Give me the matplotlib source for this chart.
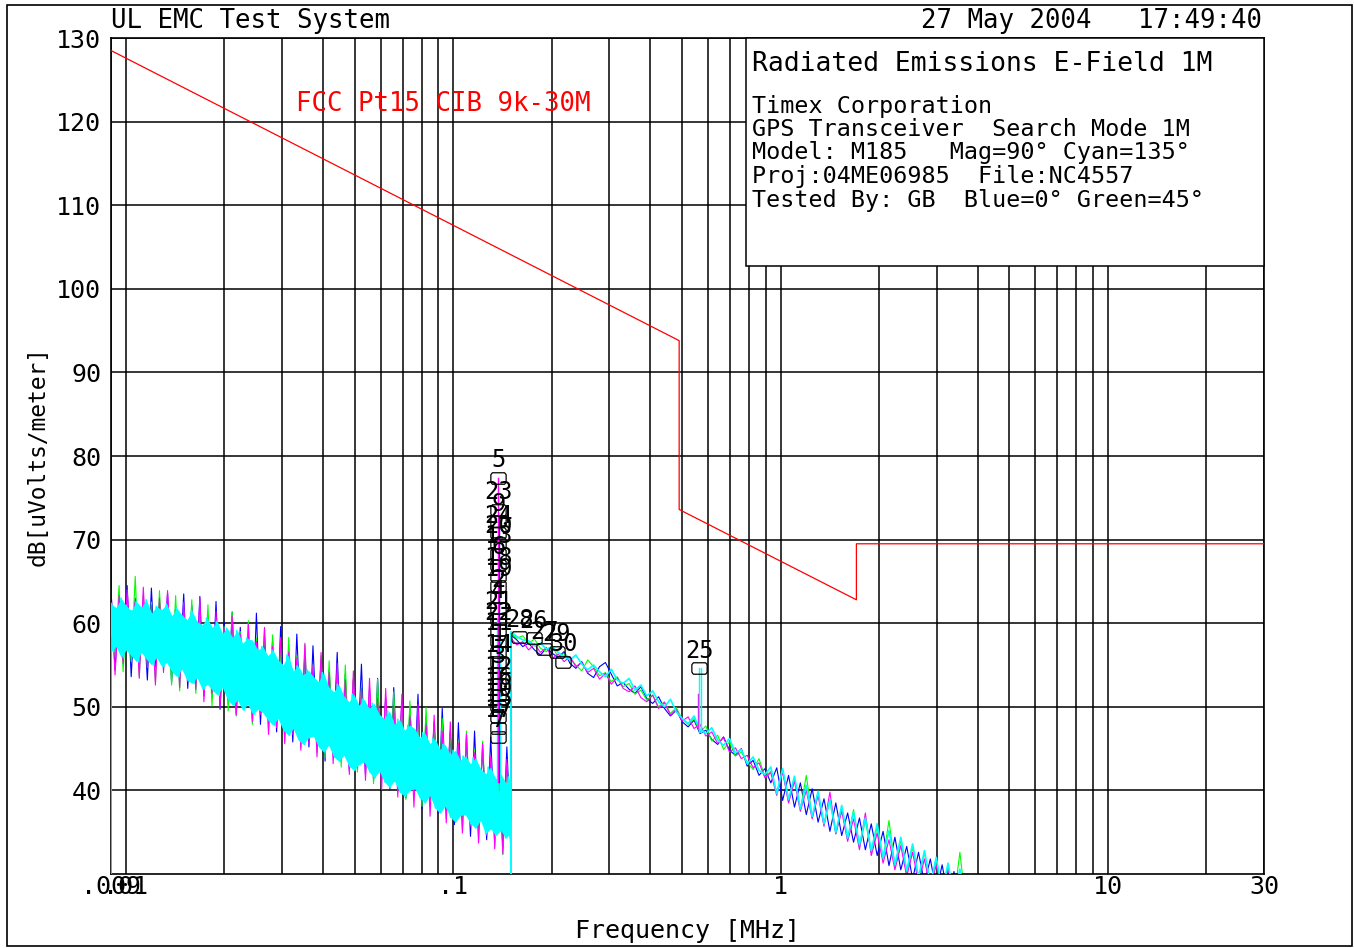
import numpy as np
import matplotlib
matplotlib.use("Agg")
import matplotlib.pyplot as plt
from matplotlib.patches import Rectangle
from matplotlib.ticker import LogLocator, NullFormatter, FixedLocator, FixedFormatter

plt.rcParams['font.family'] = ['DejaVu Sans Mono']

# ---------------- data ----------------
# sweep 1 (0.009 - 0.15 MHz), peak / trough pairs per trace
LOW_START, LOW_STOP = 0.009, 0.15
HIGH_START, HIGH_STOP = 0.15, 4.0
cyan_floor_db = 25.0

cyan_lo_hi = [62.4, 61.8, 63.0, 62.1, 61.5, 62.6, 61.9, 62.8, 61.2, 62.0,
              61.6, 62.3, 60.9, 61.8, 61.0, 60.4, 61.5, 60.2, 59.8, 60.6,
              59.5, 60.2, 58.8, 59.4, 58.3, 59.1, 57.6, 58.2, 57.9, 56.8,
              57.2, 56.1, 56.8, 55.6, 55.0, 56.2, 54.3, 54.9, 53.8, 54.4,
              53.6, 53.0, 54.1, 52.4, 51.8, 52.7, 51.3, 50.6, 51.5, 50.2,
              50.9, 49.8, 50.4, 49.1, 48.6, 49.5, 47.9, 48.5, 47.2, 47.8,
              47.4, 46.3, 46.9, 45.6, 46.2, 44.9, 45.5, 44.3, 44.8, 43.6,
              44.1, 43.2, 43.9, 42.6, 42.0, 42.8, 41.4, 42.0, 40.9, 41.6]
cyan_lo_lo = [56.6, 57.2, 55.9, 56.8, 56.1, 55.4, 56.5, 55.7, 55.0, 55.9,
              54.8, 55.3, 54.2, 53.6, 54.5, 53.2, 52.8, 53.5, 52.1, 52.7,
              52.0, 51.4, 52.3, 50.9, 50.2, 50.8, 49.6, 50.3, 49.1, 49.7,
              49.3, 48.4, 47.8, 48.6, 47.2, 46.6, 47.4, 46.0, 45.5, 46.3,
              46.5, 45.2, 44.6, 45.4, 44.0, 43.5, 44.2, 42.9, 42.4, 43.1,
              43.4, 42.2, 41.5, 42.3, 41.0, 40.4, 41.1, 39.8, 39.3, 40.0,
              40.2, 39.1, 38.5, 39.4, 37.9, 37.3, 38.1, 36.8, 36.2, 37.0,
              37.1, 36.0, 35.5, 36.4, 34.8, 35.4, 34.6, 35.2, 34.3, 34.9]

blue_lo_hi = [64.0, 62.2, 64.5, 63.0, 61.8, 64.2, 62.4, 63.6, 62.0, 63.5,
              62.1, 63.2, 60.5, 62.6, 60.1, 61.3, 59.5, 58.9, 61.2, 58.4,
              57.9, 59.6, 56.8, 58.7, 56.2, 57.3, 55.6, 54.4, 56.5, 53.9,
              53.2, 55.1, 52.2, 53.4, 51.1, 52.3, 50.6, 49.8, 51.5, 48.8,
              48.2, 49.8, 46.9, 48.1, 46.3, 47.1, 45.2, 46.4, 44.2, 45.2]
blue_lo_lo = [54.4, 56.1, 53.6, 55.0, 53.2, 54.4, 55.8, 52.9, 54.1, 52.2,
              53.0, 51.3, 51.2, 49.7, 51.4, 49.2, 50.3, 48.5, 47.9, 49.5,
              47.0, 48.6, 45.8, 47.2, 45.2, 46.5, 43.5, 45.0, 43.4, 42.4,
              43.9, 41.9, 41.2, 42.5, 40.0, 41.1, 39.1, 40.2, 37.8, 39.2,
              37.3, 38.4, 35.9, 37.0, 34.5, 35.9, 34.1, 35.0, 33.2, 34.0]
green_lo_hi = [62.9, 64.5, 62.4, 65.6, 63.4, 62.5, 63.9, 62.2, 63.3, 61.5,
               62.8, 61.0, 62.2, 60.3, 59.6, 61.4, 59.0, 60.3, 58.2, 59.2,
               58.6, 57.0, 58.3, 56.1, 57.4, 55.0, 56.1, 55.5, 53.8, 55.0,
               53.4, 52.5, 51.6, 53.3, 50.7, 51.8, 49.8, 50.7, 49.1, 49.9,
               47.5, 48.6, 47.2, 45.9, 47.1, 44.9, 45.9, 43.8, 44.6, 43.2]
green_lo_lo = [56.0, 54.2, 55.4, 53.6, 54.8, 53.0, 54.5, 52.6, 51.9, 53.4,
               51.6, 52.5, 50.1, 51.2, 49.5, 48.9, 50.5, 47.9, 49.1, 47.1,
               48.0, 46.2, 47.1, 45.1, 46.2, 44.5, 43.9, 45.4, 42.8, 43.6,
               42.2, 43.2, 40.8, 42.0, 40.2, 41.3, 38.9, 39.8, 38.1, 38.7,
               37.5, 36.6, 37.5, 35.3, 36.3, 34.2, 35.1, 33.5, 32.3, 33.1]
magenta_lo_hi = [64.2, 63.3, 64.0, 62.6, 64.3, 62.1, 63.0, 63.9, 61.6, 62.5,
                 61.5, 63.0, 60.2, 61.4, 59.4, 60.8, 58.7, 59.9, 57.8, 59.5,
                 57.2, 58.3, 56.5, 55.9, 57.6, 55.0, 56.5, 54.1, 55.2, 53.2,
                 54.3, 52.2, 53.4, 51.0, 52.2, 50.1, 51.5, 48.9, 50.3, 47.8,
                 49.0, 47.1, 48.2, 45.7, 46.7, 44.5, 45.6, 44.1, 45.2, 43.7]
magenta_lo_lo = [53.8, 55.2, 56.1, 53.4, 54.7, 52.6, 54.1, 55.0, 52.3, 53.0,
                 52.1, 50.6, 51.6, 49.9, 50.9, 49.0, 49.8, 48.2, 49.1, 46.7,
                 47.5, 45.6, 46.7, 44.8, 45.6, 44.0, 44.9, 43.2, 44.1, 41.9,
                 42.7, 41.2, 42.0, 40.1, 40.9, 39.2, 40.0, 38.0, 38.8, 36.9,
                 37.9, 36.1, 36.8, 34.9, 35.7, 33.7, 34.6, 33.0, 32.4, 32.6]

# sweep 2 (0.15 - 4 MHz)
cyan_hi = [59.0, 58.4, 58.0, 57.9, 57.3, 57.6, 56.9, 57.2, 56.5, 56.0,
           55.6, 56.2, 55.1, 54.4, 55.0, 54.2, 53.6, 54.5, 53.2, 52.8,
           53.4, 52.0, 52.6, 51.3, 51.9, 50.6, 50.0, 50.9, 49.4, 48.6,
           48.0, 48.9, 47.3, 46.8, 47.5, 46.0, 45.4, 46.2, 44.5, 44.9,
           43.2, 44.0, 42.4, 41.9, 42.8, 39.6, 42.6, 38.9, 41.7, 37.8,
           40.6, 36.9, 39.9, 36.0, 38.9, 35.0, 38.2, 34.3, 37.4, 33.5,
           36.7, 32.8, 36.0, 31.9, 35.2, 31.1, 34.4, 30.4, 33.6, 29.6,
           32.8, 28.8, 32.0, 28.0, 31.3, 27.4, 30.6, 26.6, 29.9, 26.0]
blue_hi = [58.6, 58.0, 57.2, 57.6, 56.8, 56.2, 57.0, 56.4, 55.9, 56.6,
           55.2, 54.6, 55.4, 54.0, 53.5, 54.8, 55.3, 53.9, 52.5, 52.9,
           52.1, 51.6, 52.4, 51.0, 50.4, 51.2, 49.8, 48.9, 49.6, 48.2,
           47.6, 48.4, 46.8, 47.2, 46.1, 45.5, 46.4, 44.8, 44.2, 45.0,
           42.9, 43.6, 41.8, 42.6, 40.9, 42.7, 38.8, 41.8, 38.0, 40.9,
           37.1, 40.2, 36.2, 39.0, 35.1, 38.5, 34.6, 37.3, 33.8, 36.7,
           32.9, 36.0, 32.2, 35.1, 31.0, 34.4, 30.5, 33.3, 29.4, 32.6,
           28.9, 31.8, 27.9, 31.1, 27.2, 30.3, 26.5, 29.6, 25.8, 28.7]
green_hi = [58.8, 58.2, 58.5, 57.6, 58.1, 57.0, 56.6, 57.3, 55.9, 56.4,
            55.8, 55.0, 54.3, 55.6, 54.8, 53.7, 54.1, 53.0, 53.6, 52.4,
            52.8, 51.5, 52.0, 50.8, 51.4, 50.0, 50.6, 49.2, 49.9, 48.5,
            47.9, 48.6, 47.0, 47.7, 45.9, 46.6, 44.9, 45.8, 44.1, 44.6,
            43.4, 42.5, 43.8, 41.6, 42.3, 39.7, 42.4, 38.6, 41.5, 37.7,
            41.8, 36.8, 39.6, 35.9, 38.8, 34.8, 37.9, 34.1, 37.7, 33.2,
            36.4, 32.6, 35.6, 31.8, 36.4, 30.9, 34.0, 30.1, 33.2, 29.3,
            32.6, 28.6, 31.7, 27.8, 31.0, 27.0, 32.6, 26.4, 29.4, 25.6]
magenta_hi = [58.2, 57.4, 57.8, 56.8, 57.5, 56.5, 57.1, 55.8, 56.3, 55.4,
              56.0, 54.8, 55.3, 54.1, 54.6, 53.3, 54.0, 52.7, 53.5, 52.2,
              51.8, 52.5, 51.1, 50.6, 51.4, 49.8, 50.5, 49.0, 49.7, 48.3,
              48.8, 47.4, 47.9, 46.5, 47.0, 45.6, 46.3, 44.6, 45.1, 43.8,
              44.2, 42.7, 43.3, 41.5, 42.1, 39.4, 42.2, 38.5, 41.1, 37.5,
              40.0, 36.6, 39.4, 35.7, 39.8, 34.8, 37.5, 33.9, 36.6, 32.9,
              37.3, 32.2, 34.9, 31.3, 34.1, 30.5, 33.4, 29.7, 32.6, 28.9,
              31.8, 28.2, 31.1, 27.5, 30.5, 26.8, 29.9, 26.1, 29.0, 25.4]

# narrow emissions (spikes): frequency, base level, peak level, colour
spike_freq = [0.1365, 0.1375, 0.1378, 0.1370, 0.1385, 0.558, 0.562, 0.572]
spike_base = [40.0, 40.0, 41.0, 41.0, 39.0, 47.5, 47.0, 47.0]
spike_peak = [60.5, 58.0, 72.8, 77.4, 58.0, 51.5, 54.6, 54.6]
spike_color = ['#00ffff', '#00ff00', '#0000ff', '#ff00ff', '#00ffff',
               '#ff00ff', '#00ffff', '#00ffff']

# FCC Part 15 Class B limit line
limit_freq = [0.009, 0.49, 0.49, 1.705, 1.705, 30.0]
limit_db = [128.5, 93.8, 73.6, 62.8, 69.5, 69.5]

# markers
marker_freq = [0.1372] * 23 + [0.159, 0.176, 0.190, 0.207, 0.217, 0.565]
marker_db = [77.4, 73.6, 72.2, 70.8, 69.6, 68.3, 67.0, 65.7, 64.4, 63.1,
             61.8, 60.5, 59.2, 57.9, 56.6, 55.3, 54.0, 52.7, 51.4, 50.1,
             48.8, 47.5, 46.4, 58.3, 58.2, 56.9, 56.6, 55.4, 54.6]
marker_lbl = ['5', '23', '9', '24', '20', '13', '6', '18', '19', '2',
              '4', '21', '22', '11', '1', '14', '3', '12', '16', '10',
              '15', '17', '7', '28', '26', '27', '29', '30', '25']

x_ticks = [0.009, 0.01, 0.1, 1, 10, 30]
x_tick_labels = ['.009', '.01', '.1', '1', '10', '30']
y_ticks = [40, 50, 60, 70, 80, 90, 100, 110, 120, 130]

info_lines = ["Timex Corporation",
              "GPS Transceiver  Search Mode 1M",
              "Model: M185   Mag=90\u00b0 Cyan=135\u00b0",
              "Proj:04ME06985  File:NC4557",
              "Tested By: GB  Blue=0\u00b0 Green=45\u00b0"]


def zigzag(hi, lo):
    return np.column_stack([hi, lo]).ravel()


# ---------------- figure ----------------
fig = plt.figure(figsize=(13.54, 9.48), dpi=100)
ax = fig.add_axes([111 / 1354, 74 / 948, 1153 / 1354, 836 / 948])
ax.set_xscale('log')
ax.set_xlim(0.009, 30)
ax.set_ylim(30, 130)

f_high = np.geomspace(HIGH_START, HIGH_STOP, len(cyan_hi))
traces = [('#0000ff', blue_lo_hi, blue_lo_lo, blue_hi),
          ('#00ff00', green_lo_hi, green_lo_lo, green_hi),
          ('#ff00ff', magenta_lo_hi, magenta_lo_lo, magenta_hi)]
for col, hi, lo, hb in traces:
    y_low = zigzag(hi, lo)
    f_low = np.geomspace(LOW_START, LOW_STOP, len(y_low))
    ax.plot(np.concatenate([f_low, f_high]), np.concatenate([y_low, hb]),
            color=col, lw=0.8, zorder=2)

# cyan: dense band in sweep 1
f_env = np.geomspace(LOW_START, LOW_STOP, len(cyan_lo_hi))
ax.fill_between(f_env, cyan_lo_lo, cyan_lo_hi, color='#00ffff', lw=0, zorder=3)
y_low = zigzag(cyan_lo_hi, cyan_lo_lo)
f_low = np.geomspace(LOW_START, LOW_STOP, len(y_low))
cx = np.concatenate([[LOW_START], f_low, [LOW_STOP], f_high])
cy = np.concatenate([[cyan_floor_db], y_low, [cyan_floor_db], cyan_hi])
ax.plot(cx, cy, color='#00ffff', lw=1.2, zorder=3)

for f, b, p, c in zip(spike_freq, spike_base, spike_peak, spike_color):
    ax.plot([f, f], [b, p], color=c, lw=1.0, zorder=4)

ax.plot(limit_freq, limit_db, color='#ff0000', lw=0.9, zorder=4)
ax.text(0.033, 122.1, 'FCC Pt15 CIB 9k-30M', color='#ff0000',
        fontsize=18.5, ha='left', va='center', zorder=4)

oct_verts = [(-1, -0.5), (-0.8, -0.75), (0.8, -0.75), (1, -0.5),
             (1, 0.5), (0.8, 0.75), (-0.8, 0.75), (-1, 0.5), (-1, -0.5)]
ax.plot(marker_freq, marker_db, ls='none', marker=oct_verts, markersize=11,
        markerfacecolor='none', markeredgecolor='black', markeredgewidth=0.9,
        zorder=6)
for f, d, t in zip(marker_freq, marker_db, marker_lbl):
    ax.annotate(t, (f, d), xytext=(0, 12.5), textcoords='offset points',
                ha='center', va='center', fontsize=17, color='black', zorder=6)

# grid / ticks
ax.xaxis.set_major_locator(FixedLocator(x_ticks))
ax.xaxis.set_major_formatter(FixedFormatter(x_tick_labels))
ax.xaxis.set_minor_locator(LogLocator(base=10, subs=np.arange(2, 10), numticks=20))
ax.xaxis.set_minor_formatter(NullFormatter())
ax.set_yticks(y_ticks)
ax.set_yticklabels([str(v) for v in y_ticks])
ax.grid(True, which='both', axis='x', color='black', lw=1.1, zorder=0)
ax.grid(True, which='major', axis='y', color='black', lw=1.1, zorder=0)
ax.set_axisbelow(True)
ax.tick_params(which='both', length=0, labelsize=18, colors='black')
ax.tick_params(axis='x', pad=1)
ax.tick_params(axis='y', pad=7)
for s in ax.spines.values():
    s.set_linewidth(1.2)
    s.set_color('black')

ax.set_xlabel('Frequency [MHz]', fontsize=18, labelpad=14)
ax.set_ylabel('dB[uVolts/meter]', fontsize=16.5, labelpad=5)

# info box
left = (746 - 111) / 1153
bottom = (874 - 266) / 836
ax.add_patch(Rectangle((left, bottom), 1 - left, 1 - bottom, transform=ax.transAxes,
                       facecolor='white', edgecolor='black', lw=1.1, zorder=7,
                       clip_on=False))
tx = (752 - 111) / 1153
ax.text(tx, (874 - 64) / 836, 'Radiated Emissions E-Field 1M', transform=ax.transAxes,
        fontsize=19, ha='left', va='center', zorder=8)
for i, line in enumerate(info_lines):
    ax.text(tx, (874 - 106 - 23.5 * i) / 836, line, transform=ax.transAxes,
            fontsize=16.8, ha='left', va='center', zorder=8)

# header
fig.text(111 / 1354, 1 - 21 / 948, 'UL EMC Test System', fontsize=18.5,
         ha='left', va='center')
fig.text(1262 / 1354, 1 - 21 / 948, '27 May 2004   17:49:40', fontsize=18.5,
         ha='right', va='center')

fig.patches.append(Rectangle((7 / 1354, 2 / 948), 1345 / 1354, 941 / 948,
                             transform=fig.transFigure, fill=False,
                             edgecolor='black', lw=1.2))

fig.savefig('out.png', dpi=100)
